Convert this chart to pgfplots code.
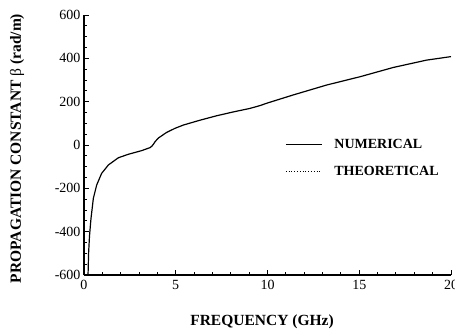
\documentclass[border=0pt]{standalone}
\usepackage{fontspec}
\setmainfont{Liberation Serif}
\usepackage{pgfplots}
\pgfplotsset{compat=1.18}
\begin{document}
\begin{tikzpicture}
\begin{axis}[
  name=ax,
  scale only axis,
  width=367pt, height=260pt,
  xmin=0, xmax=20, ymin=-600, ymax=600,
  axis lines*=left,
  axis line style={line width=1.2pt},
  tick align=inside,
  major tick length=5pt, minor tick length=3pt,
  every tick/.style={line width=1pt, black},
  xtick={0,5,10,15,20},
  ytick={-600,-400,-200,0,200,400,600},
  yticklabels={-600,-400,-200,0,200,400,600},
  minor x tick num=4,
  minor y tick num=3,
  /pgf/number format/assume math mode=true,
  tick label style={font=\fontsize{14}{16}\selectfont},
  xticklabel style={yshift=-2pt},
  xlabel={FREQUENCY (GHz)},
  ylabel={PROPAGATION CONSTANT \textmd{β} (rad/m)},
  every axis x label/.style={at={(axis description cs:0.485,-0.181)}, anchor=center, font=\fontsize{15.5}{18}\selectfont\bfseries},
  every axis y label/.style={at={(axis description cs:-0.1826,0.4865)}, anchor=center, rotate=90, font=\fontsize{15.5}{18}\selectfont\bfseries},
  legend style={draw=none, fill=none, at={(axis description cs:0.5395,0.449)}, anchor=west,
    font=\fontsize{14}{16}\selectfont\bfseries, row sep=12pt},
  legend cell align=left,
  /tikz/every odd column/.append style={column sep=10pt},
  legend image code/.code={\draw[#1] (0pt,0pt) -- (36pt,0pt);},
]
\addplot[black, line width=1.2pt] coordinates {
(0.22,-600) (0.25,-500) (0.30,-420) (0.38,-340) (0.51,-246) (0.69,-185)
(0.96,-131) (1.33,-92) (1.87,-59) (2.41,-43) (3.14,-26) (3.6,-12)
(3.69,-6) (3.78,3) (3.87,15) (4.05,32) (4.5,58) (4.96,77) (5.41,92)
(6.3,114) (7.23,135) (8.1,152) (9.05,169) (9.59,182) (10.04,195)
(11.4,231) (13.23,277) (15.04,315) (16.86,358) (18.68,392) (20,408)
};
\addlegendentry{NUMERICAL}
\addlegendimage{black, dotted, line width=0.8pt}
\addlegendentry{THEORETICAL}
\end{axis}
\pgfresetboundingbox
\path ([shift={(-84pt,-57pt)}]ax.south west) rectangle ([shift={(371pt,275pt)}]ax.south west);
\end{tikzpicture}
\end{document}
